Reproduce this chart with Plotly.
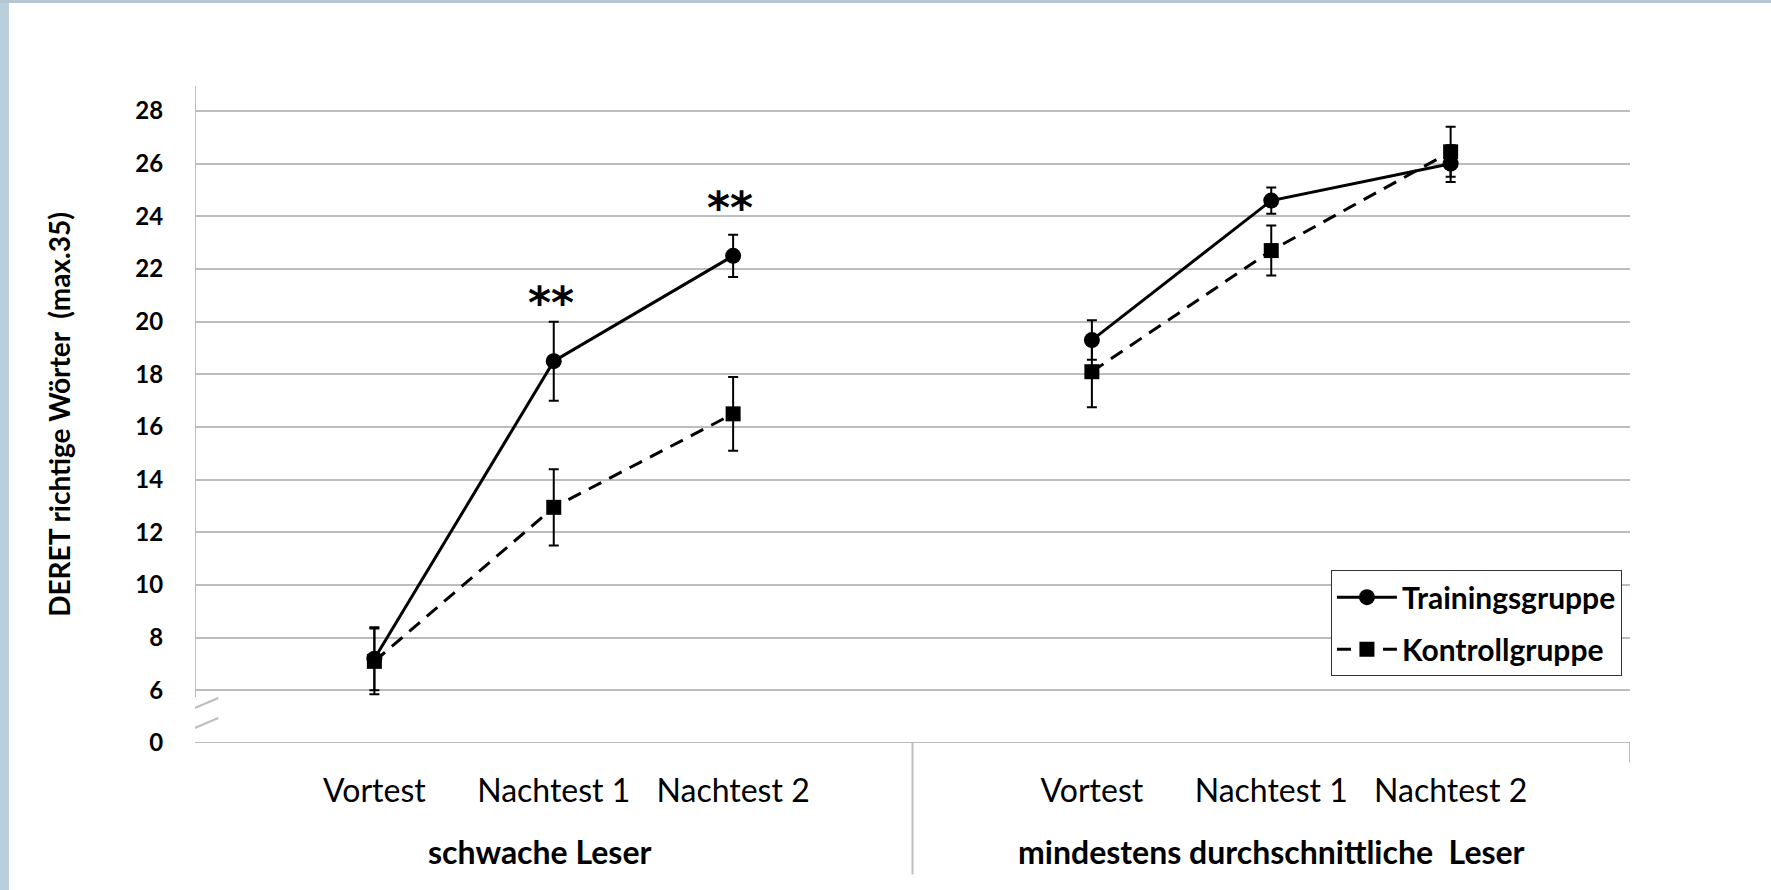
import plotly.graph_objects as go

# ---- data ----
categories = ["Vortest", "Nachtest 1", "Nachtest 2"]
groups = ["schwache Leser", "mindestens durchschnittliche  Leser"]
series_names = ["Trainingsgruppe", "Kontrollgruppe"]

training_weak = [7.2, 18.5, 22.5]
training_weak_err = [1.2, 1.5, 0.8]
control_weak = [7.1, 12.95, 16.5]
control_weak_err = [1.25, 1.45, 1.4]

training_avg = [19.3, 24.6, 26.0]
training_avg_err = [0.75, 0.5, 0.7]
control_avg = [18.1, 22.7, 26.45]
control_avg_err = [1.35, 0.95, 0.95]

y_tick_values = [4, 6, 8, 10, 12, 14, 16, 18, 20, 22, 24, 26, 28]
y_tick_labels = ["0", "6", "8", "10", "12", "14", "16", "18", "20", "22", "24", "26", "28"]
significance = ["", "**", "**"]

# ---- positions ----
x_weak = [0, 1, 2]
x_avg = [4, 5, 6]
xs = x_weak + [None] + x_avg

FONT = "Lato"

fig = go.Figure()

def add_series(name, yw, ew, ya, ea, dash, symbol, size):
    fig.add_trace(go.Scatter(
        x=xs, y=yw + [None] + ya, name=name, mode="lines+markers",
        legendgroup=name,
        line=dict(color="black", width=3, dash=dash),
        marker=dict(symbol=symbol, size=size, color="black"),
        error_y=dict(type="data", array=ew + [0] + ea, color="black",
                     thickness=2, width=5),
        connectgaps=False,
    ))

add_series(series_names[0], training_weak, training_weak_err,
           training_avg, training_avg_err, "solid", "circle", 16)
add_series(series_names[1], control_weak, control_weak_err,
           control_avg, control_avg_err, "14px,9px", "square", 15)

# significance stars
star_shift = [0, 19, 27]
for xv, yv, e, s, sh in zip(x_weak, training_weak, training_weak_err, significance, star_shift):
    if s:
        fig.add_annotation(x=xv, y=yv + e, text="<b>" + s + "</b>", showarrow=False,
                           yanchor="middle", yshift=sh, xshift=-3,
                           font=dict(family="DejaVu Sans", size=44, color="black"))

# group labels
for gx, g, xsft in zip([1, 5], groups, [-14, 0]):
    fig.add_annotation(x=gx, y=0, yref="paper", text=g, showarrow=False,
                       yanchor="middle", yshift=-108, xshift=xsft,
                       font=dict(family=FONT, size=32, color="black", weight="bold"))

gray = "#bdbdbd"
shapes = [
    # y axis line (with break)
    dict(type="line", xref="x", yref="y", x0=-1, x1=-1, y0=5.75, y1=28.95,
         line=dict(color=gray, width=2)),
    # break marks
    dict(type="line", xref="x", yref="y", x0=-1.095, x1=-0.87, y0=5.06, y1=5.71,
         line=dict(color=gray, width=2)),
    dict(type="line", xref="x", yref="y", x0=-1.095, x1=-0.87, y0=4.3, y1=4.95,
         line=dict(color=gray, width=2)),
    # bottom axis line
    dict(type="line", xref="x", yref="y", x0=-1, x1=7, y0=4, y1=4,
         line=dict(color=gray, width=2)),
    # group divider
    dict(type="line", xref="x", yref="paper", x0=3, x1=3, y0=0, y1=-0.2,
         line=dict(color=gray, width=2)),
    dict(type="line", xref="x", yref="paper", x0=7, x1=7, y0=0, y1=-0.03,
         line=dict(color=gray, width=2)),
    # page frame strips
    dict(type="rect", xref="paper", yref="paper", x0=-195/1435, x1=-186/1435,
         y0=-147/657, y1=(657+86)/657, fillcolor="#b9cfdd", line=dict(width=0),
         layer="below"),
    dict(type="rect", xref="paper", yref="paper", x0=-195/1435, x1=(1435+141)/1435,
         y0=(657+83)/657, y1=(657+86)/657, fillcolor="#b3c6d2", line=dict(width=0),
         layer="below"),
]

fig.update_layout(
    width=1771, height=890,
    margin=dict(l=195, r=141, t=86, b=147),
    paper_bgcolor="white", plot_bgcolor="white",
    font=dict(family=FONT, color="black"),
    shapes=shapes,
    showlegend=True,
    legend=dict(x=0.7916, y=0.263, xanchor="left", yanchor="top",
                bordercolor="#333333", borderwidth=1, bgcolor="white",
                itemwidth=60,
                font=dict(family=FONT, size=30, color="black", weight="bold"),
                tracegroupgap=10),
    xaxis=dict(range=[-1, 7], tickvals=[0, 1, 2, 4, 5, 6],
               ticktext=categories + categories,
               tickfont=dict(family=FONT, size=32, color="black"),
               ticks="outside", ticklen=20, tickcolor="rgba(0,0,0,0)",
               showgrid=False, zeroline=False, showline=False),
    yaxis=dict(range=[4, 28.95], tickvals=y_tick_values, ticktext=y_tick_labels,
               tickfont=dict(family=FONT, size=24, color="black", weight="bold"),
               ticks="outside", ticklen=26, tickcolor="rgba(0,0,0,0)",
               showgrid=True, gridcolor=gray, gridwidth=2,
               zeroline=False, showline=False,
               title=dict(text="DERET richtige Wörter  (max.35)", standoff=56,
                          font=dict(family=FONT, size=28, color="black", weight="bold"))),
)

fig.write_html("out.html", config={"displayModeBar": False},
               post_script="document.body.style.margin='0px';document.body.style.overflow='hidden';")
